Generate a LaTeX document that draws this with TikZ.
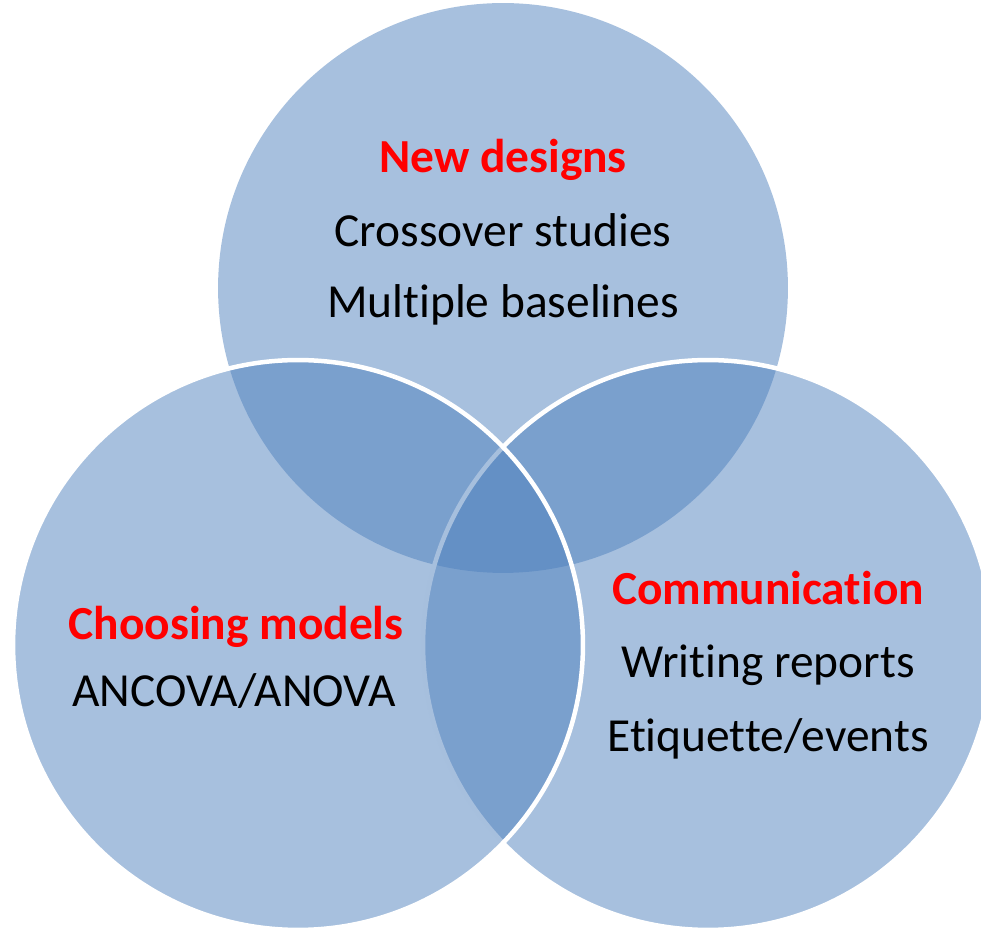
\documentclass[tikz,border=0pt]{standalone}
\usepackage{fontspec}
\setmainfont{Carlito}[Ligatures=NoCommon]
\usepackage{tikz}
\definecolor{vennblue}{RGB}{79,129,189}
\definecolor{headred}{RGB}{255,0,0}

\tikzset{
    venn/.style={circle, minimum size=11.4cm, inner sep=0pt,
        fill=vennblue, fill opacity=0.5},
    vennline/.style={draw=white, line width=0.09cm},
    head/.style={anchor=base, inner sep=0pt, text=headred,
        font=\fontsize{27pt}{32pt}\selectfont\bfseries},
    item/.style={anchor=base, inner sep=0pt,
        font=\fontsize{27pt}{32pt}\selectfont}
}

\begin{document}
\begin{tikzpicture}[x=0.02cm, y=-0.02cm]
    \useasboundingbox (0,0) rectangle (981,928);

    % the three sets
    \node[venn] (design set) at (503,288) {};
    \node[venn, vennline] (communication set) at (708,645) {};
    \node[venn, vennline] (model set) at (298,645) {};

    % top set
    \node[head] (design head) at (503,173) {New designs};
    \node[item] (crossover) at (503,247) {Crossover studies};
    \node[item] (baselines) at (503,318) {Multiple baselines};

    % left set
    \node[head] (model head) at (236,640) {Choosing models};
    \node[item] (ancova) at (234,707) {ANCOVA/ANOVA};

    % right set
    \node[head] (communication head) at (768,605) {Communication};
    \node[item] (reports) at (768,678) {Writing reports};
    \node[item] (etiquette) at (768,752) {Etiquette/events};
\end{tikzpicture}
\end{document}
